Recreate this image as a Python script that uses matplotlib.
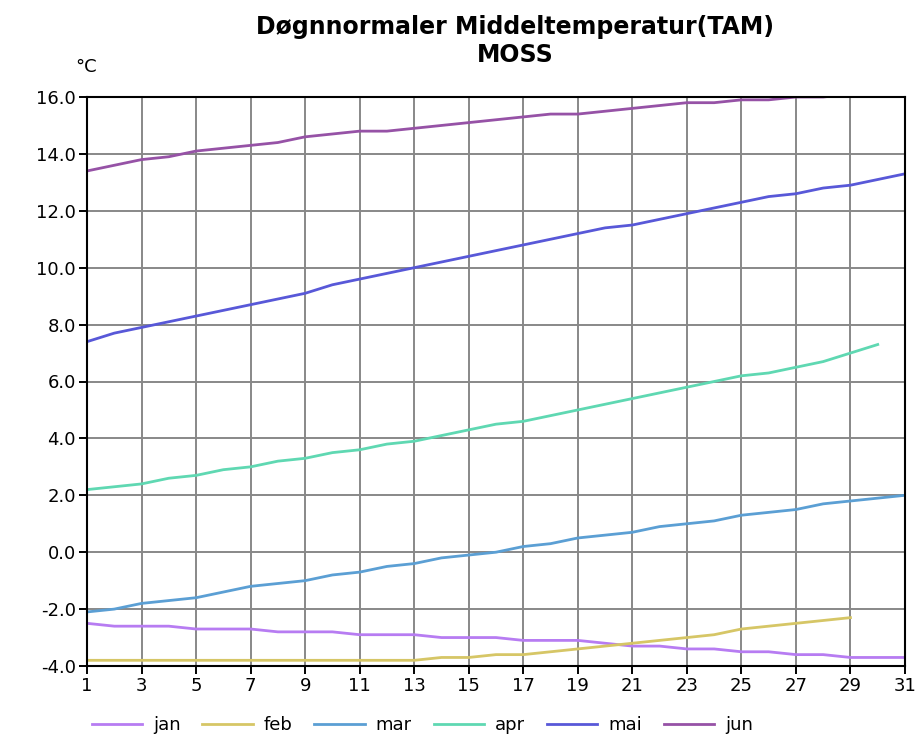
import numpy as np
import matplotlib
matplotlib.use('Agg')
import matplotlib.pyplot as plt

# daily normals
jan = [-2.5, -2.6, -2.6, -2.6, -2.7, -2.7, -2.7, -2.8, -2.8, -2.8,
       -2.9, -2.9, -2.9, -3.0, -3.0, -3.0, -3.1, -3.1, -3.1, -3.2,
       -3.3, -3.3, -3.4, -3.4, -3.5, -3.5, -3.6, -3.6, -3.7, -3.7, -3.7]
feb = [-3.8, -3.8, -3.8, -3.8, -3.8, -3.8, -3.8, -3.8, -3.8, -3.8,
       -3.8, -3.8, -3.8, -3.7, -3.7, -3.6, -3.6, -3.5, -3.4, -3.3,
       -3.2, -3.1, -3.0, -2.9, -2.7, -2.6, -2.5, -2.4, -2.3]
mar = [-2.1, -2.0, -1.8, -1.7, -1.6, -1.4, -1.2, -1.1, -1.0, -0.8,
       -0.7, -0.5, -0.4, -0.2, -0.1, 0.0, 0.2, 0.3, 0.5, 0.6,
       0.7, 0.9, 1.0, 1.1, 1.3, 1.4, 1.5, 1.7, 1.8, 1.9, 2.0]
apr = [2.2, 2.3, 2.4, 2.6, 2.7, 2.9, 3.0, 3.2, 3.3, 3.5,
       3.6, 3.8, 3.9, 4.1, 4.3, 4.5, 4.6, 4.8, 5.0, 5.2,
       5.4, 5.6, 5.8, 6.0, 6.2, 6.3, 6.5, 6.7, 7.0, 7.3]
mai = [7.4, 7.7, 7.9, 8.1, 8.3, 8.5, 8.7, 8.9, 9.1, 9.4,
       9.6, 9.8, 10.0, 10.2, 10.4, 10.6, 10.8, 11.0, 11.2, 11.4,
       11.5, 11.7, 11.9, 12.1, 12.3, 12.5, 12.6, 12.8, 12.9, 13.1, 13.3]
jun = [13.4, 13.6, 13.8, 13.9, 14.1, 14.2, 14.3, 14.4, 14.6, 14.7,
       14.8, 14.8, 14.9, 15.0, 15.1, 15.2, 15.3, 15.4, 15.4, 15.5,
       15.6, 15.7, 15.8, 15.8, 15.9, 15.9, 16.0, 16.0, 16.1, 16.1]

series = [('jan', jan, '#b77cf2'), ('feb', feb, '#d6c666'),
          ('mar', mar, '#5b9fd4'), ('apr', apr, '#5fd8b2'),
          ('mai', mai, '#5858d8'), ('jun', jun, '#9652a6')]

fig = plt.figure(figsize=(9.18, 7.41), dpi=100)
ax = fig.add_axes([87/918, 1-666/741, (905-87)/918, (666-97)/741])

for name, vals, col in series:
    days = np.arange(1, len(vals) + 1)
    ax.plot(days, vals, color=col, lw=2.0, label=name)

ax.set_xlim(1, 31)
ax.set_ylim(-4, 16)
ax.set_xticks(range(1, 32, 2))
ax.set_yticks(np.arange(-4, 16.1, 2))
ax.set_yticklabels(['%.1f' % v for v in np.arange(-4, 16.1, 2)])
ax.grid(True, color='#888888', lw=1.4)
ax.set_axisbelow(True)
ax.tick_params(axis='both', direction='out', length=6, width=1.4,
               labelsize=13, colors='black', pad=2)
for s in ax.spines.values():
    s.set_linewidth(1.5)
    s.set_color('black')

fig.text(515/918, 1-27/741, 'Døgnnormaler Middeltemperatur(TAM)',
         ha='center', va='center', fontsize=17, fontweight='bold')
fig.text(515/918, 1-55/741, 'MOSS', ha='center', va='center',
         fontsize=17, fontweight='bold')
fig.text(86/918, 1-67/741, '°C', ha='center', va='center', fontsize=13)

fig.legend(loc='center', bbox_to_anchor=(0.46, 1-725/741), ncol=6,
           frameon=False, fontsize=13, handlelength=2.8,
           columnspacing=1.2, handletextpad=0.6)

fig.savefig('out.png', dpi=100)
